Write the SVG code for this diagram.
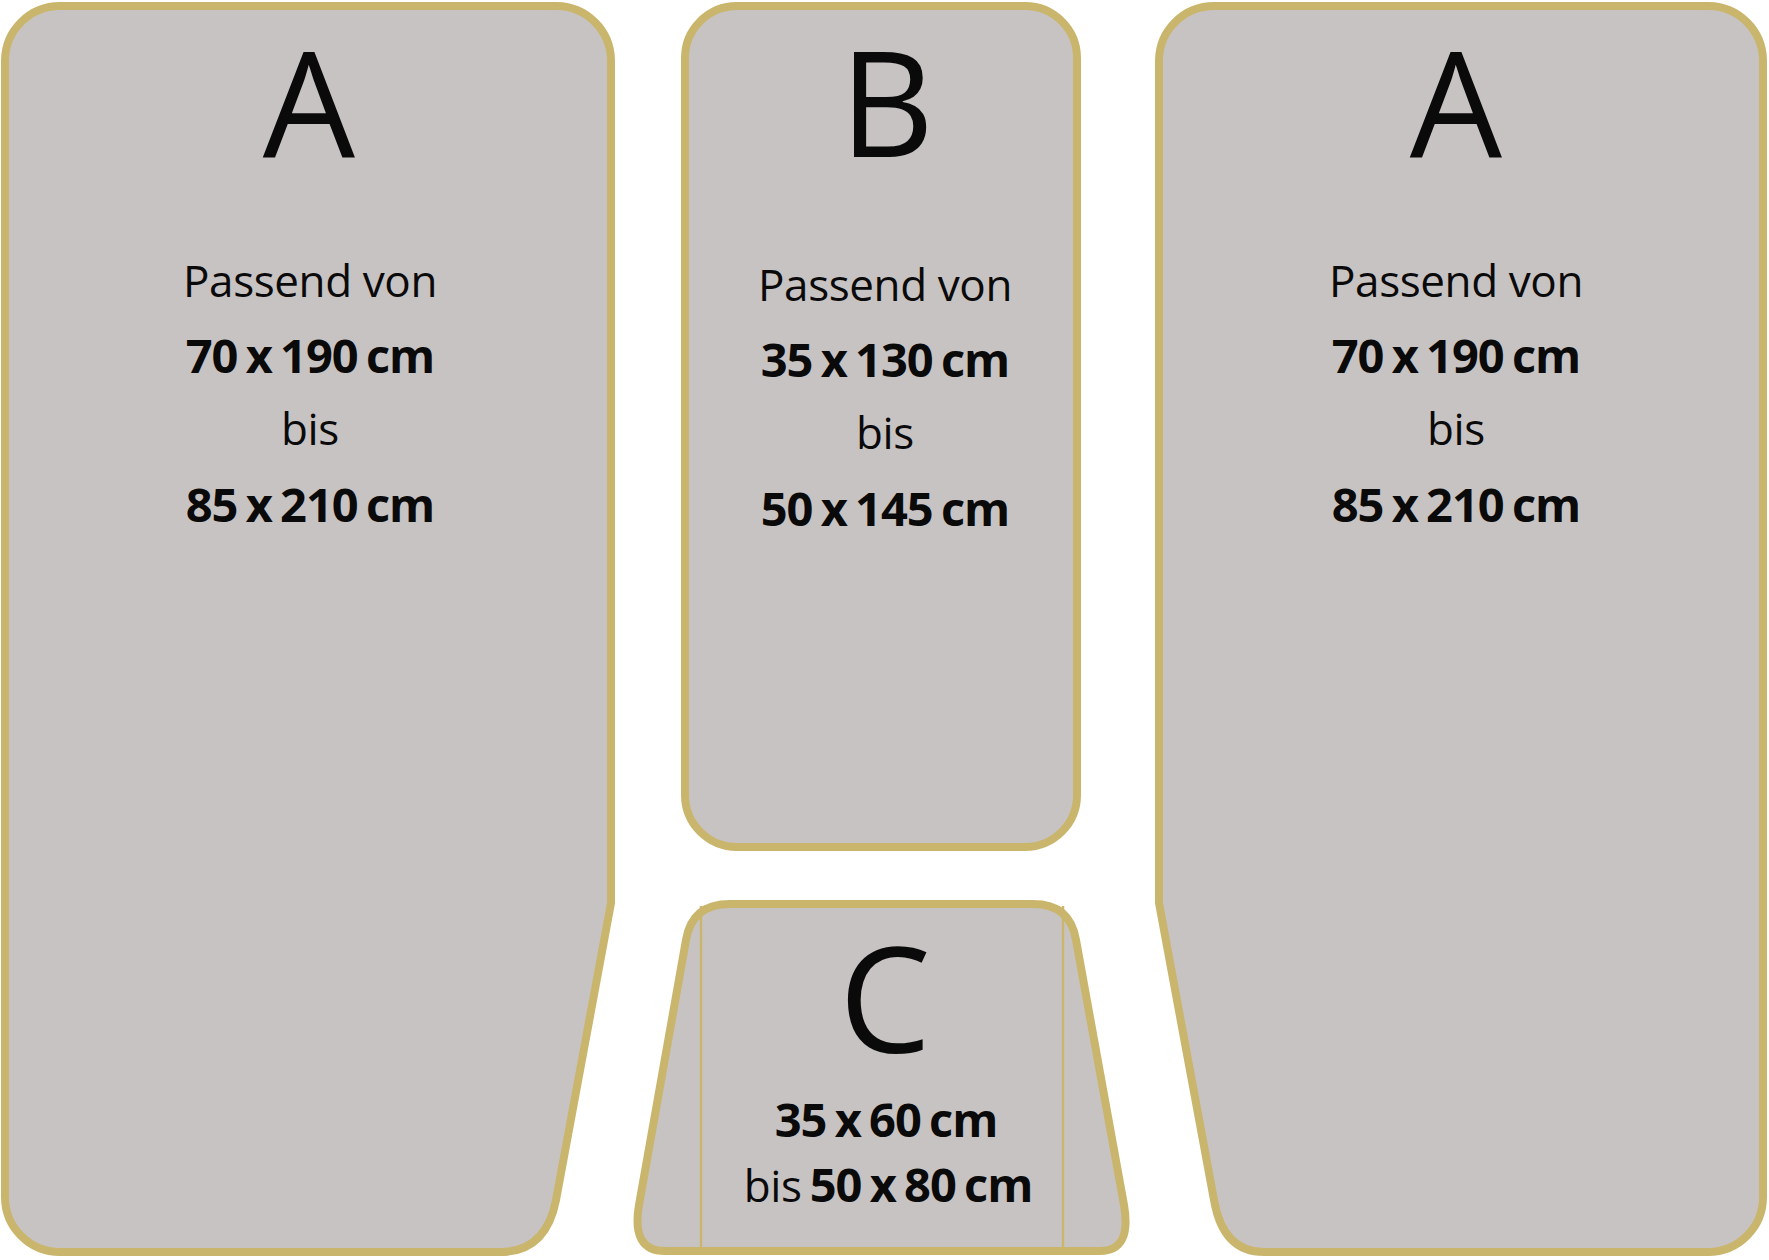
<svg xmlns="http://www.w3.org/2000/svg" width="1769" height="1260" viewBox="0 0 1769 1260">
  <style>
    .panel { fill: #c8c3c3; stroke: #c9b66c; stroke-width: 8; stroke-linejoin: round; }
    .seam { stroke: #c9b66c; stroke-width: 2.5; fill: none; }
    text { font-family: "Open Sans", "Noto Sans", "Liberation Sans", sans-serif; fill: #0a0a0a; text-anchor: middle; }
    .big { font-size: 146px; }
    .reg { font-size: 44px; letter-spacing: -0.4px; }
    .bold { font-size: 47px; font-weight: 700; letter-spacing: -1px; word-spacing: -3px; }
    .bisreg { font-weight: 400; font-size: 44px; letter-spacing: -0.4px; }
  </style>
  <rect width="1769" height="1260" fill="#ffffff"/>

  <g id="panel-a-left">
    <path class="panel" d="M 5,60 A 55 55 0 0 1 60,6 H 557 A 55 55 0 0 1 611,60 V 903 L 556,1200 Q 546,1252 500,1252 H 60 A 55 55 0 0 1 5,1197 Z"/>
    <text class="big" x="309" y="157">A</text>
    <text class="reg" x="310" y="297">Passend von</text>
    <text class="bold" x="310" y="373">70 x 190 cm</text>
    <text class="reg" x="310" y="445">bis</text>
    <text class="bold" x="310" y="522">85 x 210 cm</text>
  </g>

  <g id="panel-b">
    <rect class="panel" x="685" y="6" width="392" height="841" rx="52" ry="52"/>
    <text class="big" x="887" y="157">B</text>
    <text class="reg" x="885" y="301">Passend von</text>
    <text class="bold" x="885" y="377">35 x 130 cm</text>
    <text class="reg" x="885" y="449">bis</text>
    <text class="bold" x="885" y="526">50 x 145 cm</text>
  </g>

  <g id="panel-c">
    <path class="panel" d="M 730,904 H 1033 Q 1070,904 1076,940 L 1124,1205 Q 1132,1251 1100,1251 H 665 Q 631,1251 639,1205 L 686,940 Q 692,904 730,904 Z"/>
    <line class="seam" x1="701" y1="906" x2="701" y2="1250"/>
    <line class="seam" x1="1063" y1="906" x2="1063" y2="1250"/>
    <text class="big" x="885" y="1053">C</text>
    <text class="bold" x="886" y="1137">35 x 60 cm</text>
    <text class="bold" x="888" y="1202"><tspan class="bisreg">bis</tspan> 50 x 80 cm</text>
  </g>

  <g id="panel-a-right">
    <path class="panel" d="M 1159,903 V 60 A 55 55 0 0 1 1214,6 H 1709 A 55 55 0 0 1 1763,60 V 1197 A 55 55 0 0 1 1708,1252 H 1264 Q 1223,1252 1214,1200 Z"/>
    <text class="big" x="1456" y="157">A</text>
    <text class="reg" x="1456" y="297">Passend von</text>
    <text class="bold" x="1456" y="373">70 x 190 cm</text>
    <text class="reg" x="1456" y="445">bis</text>
    <text class="bold" x="1456" y="522">85 x 210 cm</text>
  </g>
</svg>
